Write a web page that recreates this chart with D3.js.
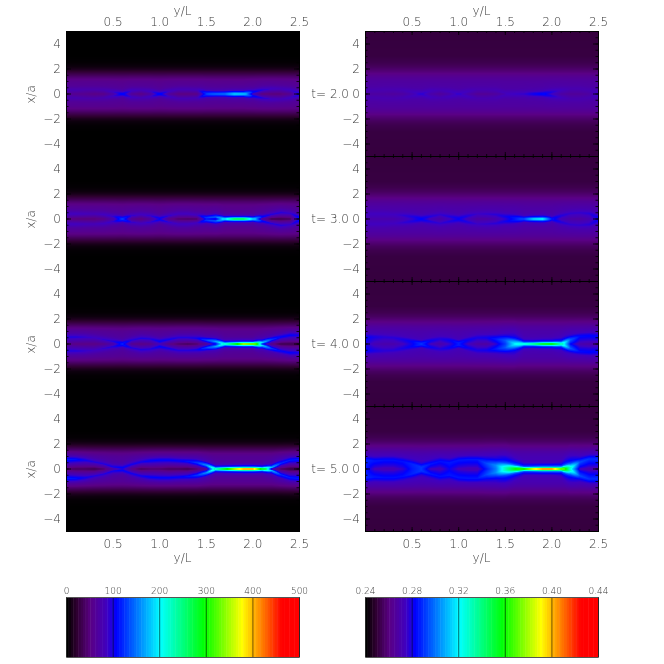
<!DOCTYPE html>
<html>
<head>
<meta charset="utf-8">
<script src="https://cdn.jsdelivr.net/npm/d3@7"></script>
<style>
  body { margin: 0; background: #fff; }
  #wrap { position: relative; width: 664px; height: 664px; overflow: hidden; }
  canvas, svg { position: absolute; left: 0; top: 0; }
  text { font-family: "DejaVu Sans", sans-serif; font-weight: 200; fill: #3a3a3a; }
</style>
</head>
<body>
<div id="wrap"></div>
<script>
// values, y/L = 0.0, 0.1 ... 2.5
const yGrid = [0,.1,.2,.3,.4,.5,.6,.7,.8,.9,1,1.1,1.2,1.3,1.4,1.5,1.6,1.7,1.8,1.9,2,2.1,2.2,2.3,2.4,2.5];
const times = ["2.0", "3.0", "4.0", "5.0"];
const xTicks = [0.5, 1, 1.5, 2, 2.5];
const yTicks = [-4, -2, 0, 2, 4];
const leftBarTicks = [0, 100, 200, 300, 400, 500];
const rightBarTicks = [0.24, 0.28, 0.32, 0.36, 0.40, 0.44];

// left column, colour range 0-500
const left2Offset = [.3,.3,.35,.35,.3,.15,0,.25,.3,.2,0,.2,.35,.35,.3,.05,0,0,0,0,.15,.3,.4,.4,.3,.05];
const left2Ridge = [75,75,72,72,75,85,110,85,78,85,110,85,78,78,80,125,145,150,190,185,110,95,85,80,85,100];
const left2Center = [58,55,55,50,52,70,110,60,50,65,110,62,48,48,50,120,145,150,190,185,80,45,45,45,55,95];
const left2Width = [1.4,1.4,1.4,1.4,1.4,1.4,1.1,1.4,1.4,1.4,1.1,1.4,1.4,1.4,1.4,1.2,1.1,1.1,1,1,1.2,1.4,1.4,1.4,1.4,1.2];

const left3Offset = [.4,.4,.4,.4,.35,.2,.03,.25,.35,.25,.05,.25,.4,.4,.3,.1,.15,0,0,0,0,.15,.35,.5,.45,.1];
const left3Ridge = [85,85,82,80,85,90,125,90,85,90,105,90,85,85,85,125,140,200,290,290,190,110,95,95,90,110];
const left3Center = [50,45,45,45,50,70,125,55,45,60,100,50,40,38,38,110,90,200,290,290,190,60,30,30,35,100];
const left3Width = [1.4,1.4,1.4,1.4,1.4,1.4,1.1,1.4,1.4,1.4,1.1,1.4,1.4,1.4,1.4,1.2,1.2,.85,.7,.7,.85,1.2,1.4,1.4,1.4,1.2];

const left4Offset = [.55,.55,.55,.5,.35,.2,.05,.3,.45,.4,.2,.35,.5,.5,.45,.3,.2,0,0,0,0,.1,.35,.55,.7,.7];
const left4Ridge = [95,95,90,85,90,95,115,95,95,95,105,100,95,95,100,130,165,230,310,400,380,190,125,105,105,100];
const left4Center = [55,50,50,50,55,70,115,55,50,55,80,50,40,35,40,60,100,230,310,400,380,100,50,30,30,30];
const left4Width = [1.4,1.4,1.4,1.4,1.4,1.4,1.1,1.4,1.4,1.4,1.4,1.4,1.4,1.4,1.4,1.2,1.1,.8,.7,.65,.65,1,1.2,1.4,1.4,1.4];

const left5Offset = [.75,.75,.7,.55,.4,.15,.1,.35,.55,.65,.7,.7,.65,.6,.5,.3,0,0,0,0,0,0,.1,.45,.7,.75];
const left5Ridge = [115,110,100,95,95,100,105,100,100,105,105,105,105,110,125,160,240,320,400,470,470,310,180,120,115,115];
const left5Center = [40,35,35,30,40,65,95,50,35,40,40,35,35,30,40,55,240,320,400,470,470,310,60,35,25,25];
const left5Width = [1.4,1.4,1.4,1.4,1.4,1.4,1.2,1.4,1.4,1.4,1.4,1.4,1.4,1.4,1.4,1.1,.8,.7,.65,.62,.62,.7,1,1.4,1.4,1.4];

// right column, colour range 0.24-0.44
const right2Offset = left2Offset;
const right2Ridge = [.27,.27,.27,.27,.271,.273,.277,.273,.271,.273,.276,.273,.27,.27,.271,.273,.275,.276,.281,.284,.278,.273,.27,.27,.27,.275];
const right2Center = [.266,.266,.266,.265,.266,.27,.277,.268,.264,.268,.276,.268,.263,.263,.265,.268,.275,.276,.281,.284,.273,.266,.264,.264,.266,.275];
const right2Width = [1.4,1.4,1.4,1.4,1.4,1.4,1.4,1.4,1.4,1.4,1.4,1.4,1.4,1.4,1.4,1.4,1.4,1.4,1.2,1.2,1.4,1.4,1.4,1.4,1.4,1.4];

const right3Offset = [.4,.4,.4,.35,.3,.2,.03,.2,.35,.2,.05,.25,.4,.4,.35,.2,.1,0,0,0,0,.25,.45,.5,.45,.1];
const right3Ridge = [.274,.274,.274,.274,.276,.278,.282,.278,.276,.278,.281,.278,.275,.276,.277,.28,.285,.294,.318,.325,.285,.278,.276,.276,.277,.281];
const right3Center = [.268,.268,.268,.268,.27,.275,.282,.27,.266,.272,.281,.27,.265,.265,.268,.275,.285,.294,.318,.325,.285,.27,.266,.265,.268,.28];
const right3Width = [1.4,1.4,1.4,1.4,1.4,1.4,1.4,1.4,1.4,1.4,1.4,1.4,1.4,1.4,1.4,1.4,1.4,1,.8,.8,1,1.4,1.4,1.4,1.4,1.4];

const right4Offset = [.55,.55,.55,.5,.35,.2,.05,.25,.4,.3,.1,.3,.5,.5,.4,.3,.05,0,0,0,0,0,.35,.6,.65,.6];
const right4Ridge = [.282,.279,.277,.277,.279,.282,.289,.281,.278,.281,.286,.281,.279,.28,.286,.295,.318,.33,.345,.365,.37,.335,.295,.283,.283,.283];
const right4Center = [.278,.27,.268,.268,.272,.28,.289,.272,.267,.274,.286,.272,.266,.265,.275,.29,.318,.33,.345,.365,.37,.335,.28,.268,.266,.266];
const right4Width = [1.3,1.3,1.3,1.3,1.3,1.2,1,1.2,1.3,1.2,1,1.3,1.4,1.4,1.6,1.8,1.8,.8,.7,.7,.7,1,1.4,1.4,1.4,1.4];

const right5Offset = [.7,.65,.7,.7,.6,.4,.15,.4,.6,.5,.7,.75,.75,.45,.3,.1,.05,0,0,0,0,0,.1,.55,.8,.8];
const right5Ridge = [.287,.285,.284,.284,.284,.287,.29,.285,.284,.285,.285,.285,.285,.293,.303,.33,.355,.375,.41,.43,.43,.385,.33,.293,.289,.289];
const right5Center = [.285,.272,.27,.27,.275,.285,.29,.272,.27,.28,.272,.27,.27,.285,.3,.33,.355,.375,.41,.43,.43,.385,.32,.272,.268,.268];
const right5Width = [1.4,1.4,1.4,1.4,1.4,1.4,1.4,1.4,1.4,1.4,1.4,1.4,1.4,2,2,2,1.2,.7,.62,.62,.62,.75,1.8,1.5,1.5,1.5];

// envelope across the sheet and shape of the bright ridge
const haloX = [0, .8, 1, 1.2, 1.4, 1.6, 1.8, 2, 2.2, 2.5, 3, 5];
const leftHaloShape = [1, 1, .97, .87, .72, .54, .36, .2, .1, .03, 0, 0];
const rightHaloShape = [1, 1, .97, .9, .8, .65, .5, .38, .26, .14, .03, 0];
const leftHaloPeak = [55, 55, 58, 60];
const rightHaloPeak = [.266, .267, .269, .271];
const lobeD = [0, .1, .2, .3, .5, .8, 1.2];
const lobeV = [1, .72, .38, .2, .08, .02, 0];

// colour table
const colorStops = [0, .04, .1, .17, .21, .4, .59, .75, .92, 1];
const colorNames = ["#000000", "#2e0030", "#5a0085", "#4000c0", "#0000ff", "#00ffff", "#00ff00", "#ffff00", "#ff0000", "#ff0000"];

const leftCol = [
  { offset: left2Offset, ridge: left2Ridge, center: left2Center, width: left2Width, power: 1 },
  { offset: left3Offset, ridge: left3Ridge, center: left3Center, width: left3Width, power: 1 },
  { offset: left4Offset, ridge: left4Ridge, center: left4Center, width: left4Width, power: 1 },
  { offset: left5Offset, ridge: left5Ridge, center: left5Center, width: left5Width, power: 1 }
];
const rightCol = [
  { offset: right2Offset, ridge: right2Ridge, center: right2Center, width: right2Width, power: 0.7 },
  { offset: right3Offset, ridge: right3Ridge, center: right3Center, width: right3Width, power: 0.7 },
  { offset: right4Offset, ridge: right4Ridge, center: right4Center, width: right4Width, power: 0.7 },
  { offset: right5Offset, ridge: right5Ridge, center: right5Center, width: right5Width, power: 0.7 }
];

// layout
const size = 664;
const leftX = [66, 299];
const rightX = [365, 598];
const panelTop = 31;
const panelH = 125;

const wrap = d3.select("#wrap");
const canvas = wrap.append("canvas").attr("width", size).attr("height", size);
const ctx = canvas.node().getContext("2d");
const svg = wrap.append("svg").attr("width", size).attr("height", size);

const colorRamp = d3.scaleLinear().domain(colorStops).range(colorNames).clamp(true);
function colorOf(f) {
  return d3.rgb(colorRamp(f));
}

const haloLeft = d3.scaleLinear().domain(haloX).range(leftHaloShape).clamp(true);
const haloRight = d3.scaleLinear().domain(haloX).range(rightHaloShape).clamp(true);
const lobe = d3.scaleLinear().domain(lobeD).range(lobeV).clamp(true);

function drawField(range, col, i, base, peak, haloScale, cmin, cmax) {
  const p = col[i];
  const py0 = panelTop + i * panelH;
  const xs = d3.scaleLinear().domain([0, 2.5]).range(range);
  const ys = d3.scaleLinear().domain([5, -5]).range([py0, py0 + panelH]);
  const off = d3.scaleLinear().domain(yGrid).range(p.offset);
  const rdg = d3.scaleLinear().domain(yGrid).range(p.ridge);
  const ctr = d3.scaleLinear().domain(yGrid).range(p.center);
  const wid = d3.scaleLinear().domain(yGrid).range(p.width);

  const px = range[0], py = py0;
  const w = range[1] - range[0] + 1, h = panelH + 1;
  const img = ctx.createImageData(w, h);
  for (let r = 0; r < h; r++) {
    const a = Math.abs(ys.invert(py + r));
    for (let c = 0; c < w; c++) {
      const yy = xs.invert(px + c);
      const o = off(yy), rv = rdg(yy), cv = ctr(yy);
      let v;
      if (a < o) {
        v = cv + (rv - cv) * Math.pow(a / o, p.power);
      } else {
        const hv = base + (peak - base) * haloScale(a);
        const h0 = base + (peak - base) * haloScale(o);
        v = hv + (rv - h0) * lobe((a - o) / wid(yy));
      }
      const rgb = colorOf((v - cmin) / (cmax - cmin));
      const k = (r * w + c) * 4;
      img.data[k] = rgb.r; img.data[k + 1] = rgb.g; img.data[k + 2] = rgb.b; img.data[k + 3] = 255;
    }
  }
  ctx.putImageData(img, px, py);
}

function minus(d) {
  return d < 0 ? "\u2212" + Math.abs(d) : "" + d;
}

function drawAxes(range, i, showTop, showBottom) {
  const py0 = panelTop + i * panelH;
  const xs = d3.scaleLinear().domain([0, 2.5]).range(range);
  const ys = d3.scaleLinear().domain([5, -5]).range([py0, py0 + panelH]);
  const g = svg.append("g").attr("fill", "none");

  // minor ticks first
  const xMinor = d3.range(1, 25).map(d => d / 10);
  const yMinor = d3.range(-9, 10).map(d => d / 2);
  g.append("g").attr("transform", `translate(0,${py0})`)
    .call(d3.axisTop(xs).tickValues(xMinor).tickSize(-2).tickFormat(""));
  g.append("g").attr("transform", `translate(0,${py0 + panelH})`)
    .call(d3.axisBottom(xs).tickValues(xMinor).tickSize(-2).tickFormat(""));
  g.append("g").attr("transform", `translate(${range[0]},0)`)
    .call(d3.axisLeft(ys).tickValues(yMinor).tickSize(-2.5).tickFormat(""));
  g.append("g").attr("transform", `translate(${range[1]},0)`)
    .call(d3.axisRight(ys).tickValues(yMinor).tickSize(-2.5).tickFormat(""));

  const topAxis = d3.axisTop(xs).tickValues(xTicks).tickSize(-4).tickPadding(5)
    .tickFormat(showTop ? d3.format(".1f") : "");
  const botAxis = d3.axisBottom(xs).tickValues(xTicks).tickSize(-4).tickPadding(8)
    .tickFormat(showBottom ? d3.format(".1f") : "");
  g.append("g").attr("transform", `translate(0,${py0})`).call(topAxis);
  g.append("g").attr("transform", `translate(0,${py0 + panelH})`).call(botAxis);
  g.append("g").attr("transform", `translate(${range[0]},0)`)
    .call(d3.axisLeft(ys).tickValues(yTicks).tickSize(-5).tickPadding(5).tickFormat(minus));
  g.append("g").attr("transform", `translate(${range[1]},0)`)
    .call(d3.axisRight(ys).tickValues(yTicks).tickSize(-5).tickFormat(""));

  g.selectAll(".domain").attr("stroke", "#000").attr("stroke-opacity", 0.8).attr("stroke-width", 1);
  g.selectAll(".tick line").attr("stroke", "#000").attr("stroke-width", 0.8);
  g.selectAll(".tick text").attr("font-size", 12).attr("font-family", null);
  return ys;
}

function drawBar(range, domain, ticks, fmt) {
  const barTop = 597, barH = 60;
  const xs = d3.scaleLinear().domain(domain).range(range);
  const n = 96;
  const steps = d3.range(0, n).map(d => d / n);
  const cell = (domain[1] - domain[0]) / n;
  svg.append("g").selectAll("rect").data(steps).enter().append("rect")
    .attr("x", d => xs(domain[0] + d * (domain[1] - domain[0])))
    .attr("y", barTop)
    .attr("width", xs(domain[0] + cell) - xs(domain[0]) + 0.5)
    .attr("height", barH)
    .attr("fill", d => colorOf(d));
  const g = svg.append("g").attr("transform", `translate(0,${barTop + barH})`)
    .call(d3.axisBottom(xs).tickValues(ticks).tickSize(-barH).tickFormat(""));
  g.selectAll("line").attr("stroke", "#000").attr("stroke-opacity", 0.55);
  g.select(".domain").attr("stroke", "#555");
  const t = svg.append("g").attr("transform", `translate(0,${barTop})`)
    .call(d3.axisTop(xs).tickValues(ticks).tickSize(0).tickPadding(3).tickFormat(fmt));
  t.select(".domain").attr("stroke", "#555");
  t.selectAll("text").attr("font-size", 9).attr("font-family", null);
}

function label(x, y, s, opts) {
  const o = opts || {};
  return svg.append("text")
    .attr("x", x).attr("y", y)
    .attr("text-anchor", o.anchor || "middle")
    .attr("font-size", 12)
    .attr("transform", o.rotate ? `rotate(${o.rotate} ${x} ${y})` : null)
    .attr("xml:space", "preserve")
    .text(s);
}

times.forEach(function(t, i) {
  drawField(leftX, leftCol, i, 0, leftHaloPeak[i], haloLeft, 0, 500);
  drawField(rightX, rightCol, i, 0.25, rightHaloPeak[i], haloRight, 0.24, 0.44);
  const ys = drawAxes(leftX, i, i === 0, i === 3);
  drawAxes(rightX, i, i === 0, i === 3);
  label(35, ys(0) + 1, "x/a", { rotate: -90 });
  label(349, ys(0) + 4, "t= " + t, { anchor: "end" });
});

[leftX, rightX].forEach(function(r) {
  const mid = (r[0] + r[1]) / 2;
  label(mid, 15, "y/L");
  label(mid, 562, "y/L");
});

drawBar(leftX, [0, 500], leftBarTicks, d3.format("d"));
drawBar(rightX, [0.24, 0.44], rightBarTicks, d3.format(".2f"));
</script>
</body>
</html>
